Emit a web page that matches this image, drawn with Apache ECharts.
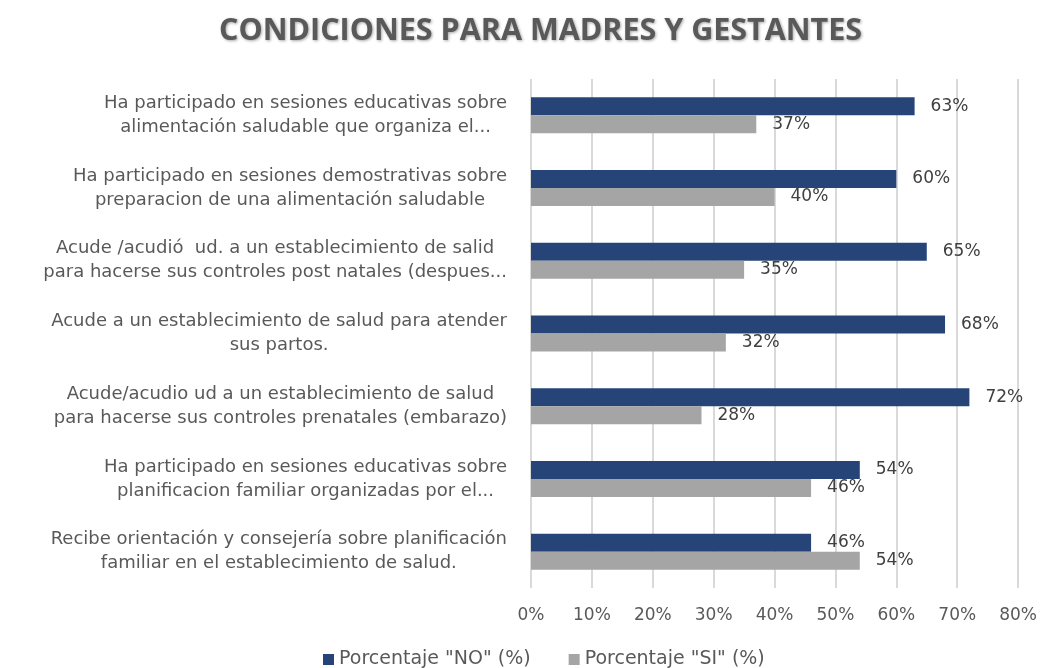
<!DOCTYPE html>
<html>
<head>
<meta charset="utf-8">
<script src="https://cdn.jsdelivr.net/npm/echarts@6/dist/echarts.min.js"></script>
<style>
    html, body { margin: 0; padding: 0; background: #ffffff; }
    #chart { width: 1040px; height: 668px; }
</style>
</head>
<body>
<div id="chart"></div>
<script>
const categories = [
    'Ha participado en sesiones educativas sobre\nalimentación saludable que organiza el...',
    'Ha participado en sesiones demostrativas sobre\npreparacion de una alimentación saludable',
    'Acude /acudió  ud. a un establecimiento de salid\npara hacerse sus controles post natales (despues...',
    'Acude a un establecimiento de salud para atender\nsus partos.',
    'Acude/acudio ud a un establecimiento de salud\npara hacerse sus controles prenatales (embarazo)',
    'Ha participado en sesiones educativas sobre\nplanificacion familiar organizadas por el...',
    'Recibe orientación y consejería sobre planificación\nfamiliar en el establecimiento de salud.'
];
const valuesNo = [63, 60, 65, 68, 72, 54, 46];
const valuesSi = [37, 40, 35, 32, 28, 46, 54];
const xTicks = [0, 10, 20, 30, 40, 50, 60, 70, 80];

const myChart = echarts.init(document.getElementById('chart'));

const labelFont = 'DejaVu Sans';

const option = {
    backgroundColor: '#ffffff',
    animation: false,
    title: {
        text: 'CONDICIONES PARA MADRES Y GESTANTES',
        left: 214,
        top: 11,
        textStyle: {
            fontFamily: 'Open Sans',
            fontWeight: 'bold',
            fontSize: 30.5,
            color: '#595959',
            textShadowColor: 'rgba(0,0,0,0.35)',
            textShadowBlur: 3,
            textShadowOffsetX: 1,
            textShadowOffsetY: 1
        }
    },
    legend: {
        left: 318,
        top: 645,
        itemWidth: 11,
        itemHeight: 11,
        itemGap: 38,
        icon: 'rect',
        textStyle: {
            fontFamily: labelFont,
            fontSize: 19,
            color: '#595959'
        },
        data: ['Porcentaje "NO" (%)', 'Porcentaje "SI" (%)']
    },
    grid: {
        left: 531,
        right: 21,
        top: 79,
        bottom: 80,
        containLabel: false
    },
    xAxis: {
        type: 'value',
        min: xTicks[0],
        max: xTicks[xTicks.length - 1],
        interval: 10,
        axisLine: {show: false},
        axisTick: {show: false},
        splitLine: {
            show: true,
            lineStyle: {color: '#d9d9d9', width: 2}
        },
        axisLabel: {
            margin: 19,
            fontFamily: labelFont,
            fontSize: 17,
            color: '#595959',
            formatter: '{value}%'
        }
    },
    yAxis: {
        type: 'category',
        inverse: true,
        data: categories,
        axisLine: {show: false},
        axisTick: {show: false},
        axisLabel: {
            margin: 24,
            formatter: function (value) {
                return value.split('\n').map(function (line) {
                    return '{c|' + line + '}';
                }).join('\n');
            },
            rich: {
                c: {
                    align: 'center',
                    fontFamily: labelFont,
                    fontSize: 18,
                    lineHeight: 24,
                    color: '#595959'
                }
            }
        }
    },
    series: [
        {
            name: 'Porcentaje "NO" (%)',
            type: 'bar',
            data: valuesNo,
            barWidth: 18,
            barGap: '0%',
            itemStyle: {color: '#264478'},
            label: {
                show: true,
                position: 'right',
                distance: 16,
                fontFamily: labelFont,
                fontSize: 17,
                color: '#404040',
                formatter: '{c}%'
            }
        },
        {
            name: 'Porcentaje "SI" (%)',
            type: 'bar',
            data: valuesSi,
            barWidth: 18,
            barGap: '0%',
            itemStyle: {color: '#a5a5a5'},
            label: {
                show: true,
                position: 'right',
                distance: 16,
                fontFamily: labelFont,
                fontSize: 17,
                color: '#404040',
                formatter: '{c}%'
            }
        }
    ]
};

myChart.setOption(option);
window.onresize = myChart.resize;
</script>
</body>
</html>
